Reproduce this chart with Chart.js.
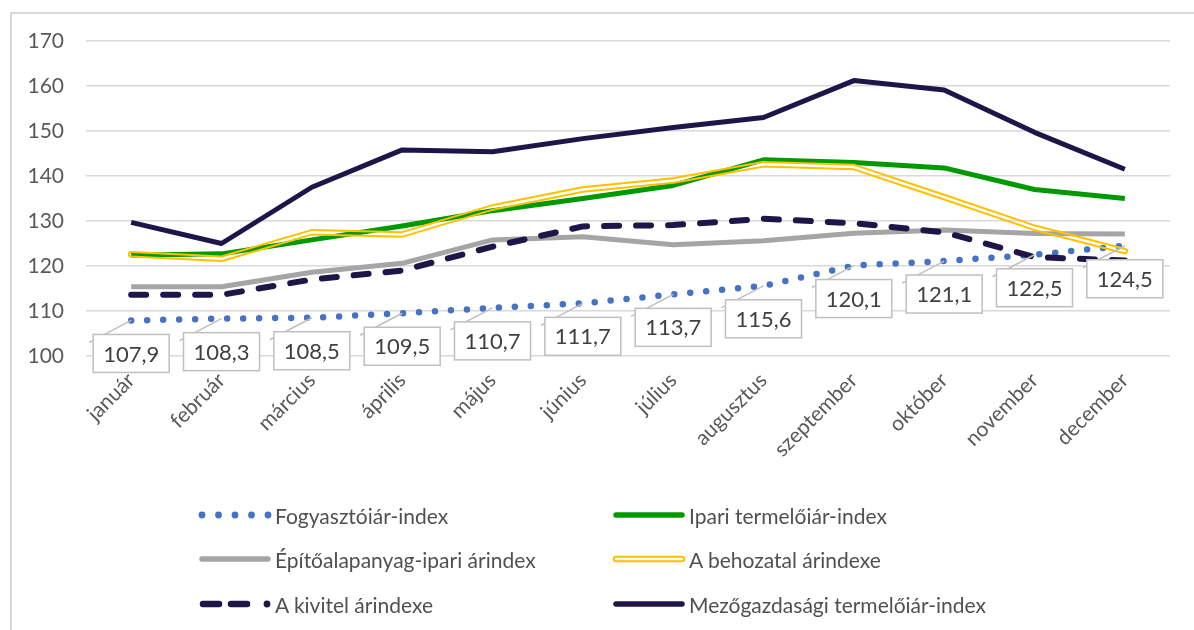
<!DOCTYPE html>
<html>
<head>
<meta charset="utf-8">
<script src="https://cdn.jsdelivr.net/npm/chart.js@4/dist/chart.umd.min.js"></script>
<style>
  html, body { margin: 0; padding: 0; background: #fff; }
  body { width: 1194px; height: 630px; position: relative; overflow: hidden; font-family: Lato, "Open Sans", sans-serif; }
  #frame { position: absolute; left: 10px; top: 12px; width: 1200px; height: 640px; border-left: 2px solid #d9d9d9; border-top: 2px solid #d9d9d9; }
  #wrap { position: absolute; left: 0; top: 0; width: 1194px; height: 630px; }
  .leg { position: absolute; display: flex; align-items: center; font-size: 21px; color: #505050; white-space: nowrap; }
  .leg svg { margin-right: 3px; }
</style>
</head>
<body>
<div id="frame"></div>
<div id="wrap"><canvas id="c"></canvas></div>
<div id="legend"></div>
<script>
const labels = ['január','február','március','április','május','június','július','augusztus','szeptember','október','november','december'];
const fogyasztoi = [107.9,108.3,108.5,109.5,110.7,111.7,113.7,115.6,120.1,121.1,122.5,124.5];
const ipari = [122.4,122.7,125.8,128.9,132.3,135.0,137.9,143.6,143.0,141.8,137.0,135.0];
const epitoanyag = [115.4,115.4,118.6,120.6,125.8,126.5,124.7,125.6,127.3,128.0,127.2,127.1];
const behozatal = [122.6,121.6,127.5,127.0,133.0,137.0,139.0,142.6,142.0,135.3,128.5,123.3];
const kivitel = [113.6,113.6,117.0,119.0,124.3,128.8,129.1,130.5,129.5,127.5,122.0,121.2];
const mezogazdasagi = [129.7,125.0,137.5,145.8,145.4,148.3,150.8,153.0,161.2,159.1,149.7,141.5];
const yTicks = [100,110,120,130,140,150,160,170];
const seriesNames = ['Fogyasztóiár-index','Ipari termelőiár-index','Építőalapanyag-ipari árindex','A behozatal árindexe','A kivitel árindexe','Mezőgazdasági termelőiár-index'];

const FONT = 'Lato, "Open Sans", sans-serif';
const TXT = '#595959';

function fmt(v){ return v.toFixed(1).replace('.', ','); }

// draws the double (outline) line of the import series with a transparent core
const doubleLinePlugin = {
  id: 'doubleLine',
  beforeDatasetDraw(chart, args) {
    if (args.index !== 3) return;
    const pts = args.meta.data;
    const off = document.createElement('canvas');
    off.width = chart.canvas.width; off.height = chart.canvas.height;
    const o = off.getContext('2d');
    const r = chart.currentDevicePixelRatio || 1;
    o.scale(r, r);
    o.beginPath();
    pts.forEach((p, i) => { if (i === 0) o.moveTo(p.x, p.y); else o.lineTo(p.x, p.y); });
    o.lineJoin = 'round'; o.lineCap = 'round';
    o.strokeStyle = '#ffc000'; o.lineWidth = 6.5; o.stroke();
    o.globalCompositeOperation = 'destination-out';
    o.lineWidth = 2.4; o.stroke();
    chart.ctx.save();
    chart.ctx.setTransform(1,0,0,1,0,0);
    chart.ctx.drawImage(off, 0, 0);
    chart.ctx.restore();
    return false;
  }
};

// Excel-like data labels for the first series
const labelPlugin = {
  id: 'boxLabels',
  afterDatasetsDraw(chart) {
    const meta = chart.getDatasetMeta(0);
    const ds = chart.data.datasets[0].data;
    const ctx = chart.ctx;
    ctx.save();
    meta.data.forEach((p, i) => {
      const cx = p.x, cy = p.y + 33;
      const w = 76, h = 38;
      ctx.strokeStyle = '#bfbfbf'; ctx.lineWidth = 1.5;
      ctx.beginPath(); ctx.moveTo(cx - 42, cy - 11); ctx.lineTo(p.x, p.y); ctx.stroke();
      ctx.fillStyle = '#fff';
      ctx.fillRect(cx - w/2, cy - h/2, w, h);
      ctx.strokeRect(cx - w/2, cy - h/2, w, h);
      ctx.fillStyle = '#404040';
      ctx.font = '22px ' + FONT;
      ctx.textAlign = 'center'; ctx.textBaseline = 'middle';
      ctx.fillText(fmt(ds[i]), cx, cy + 1);
    });
    ctx.restore();
  }
};

const colors = ['#4472c4','#009a00','#a5a5a5','#ffc000','#1f1548','#1f1548'];
const datasets = [
  { label: seriesNames[0], data: fogyasztoi, borderColor: colors[0], borderWidth: 6.5, borderDash: [0, 16], borderCapStyle: 'round', order: 5 },
  { label: seriesNames[1], data: ipari, borderColor: colors[1], borderWidth: 5, order: 4 },
  { label: seriesNames[2], data: epitoanyag, borderColor: colors[2], borderWidth: 5, order: 3 },
  { label: seriesNames[3], data: behozatal, borderColor: colors[3], borderWidth: 6.5, order: 2 },
  { label: seriesNames[4], data: kivitel, borderColor: colors[4], borderWidth: 6, borderDash: [15, 17], borderCapStyle: 'round', order: 1 },
  { label: seriesNames[5], data: mezogazdasagi, borderColor: colors[5], borderWidth: 5, order: 0 }
].map(d => Object.assign({ pointRadius: 0, pointHoverRadius: 0, tension: 0, fill: false, borderJoinStyle: 'round' }, d));

new Chart(document.getElementById('c'), {
  type: 'line',
  data: { labels, datasets },
  options: {
    responsive: true, maintainAspectRatio: false, animation: false,
    layout: { padding: { left: 0, right: 24, top: 41, bottom: 0 } },
    plugins: { legend: { display: false }, tooltip: { enabled: false } },
    scales: {
      x: {
        offset: true,
        grid: { display: false, drawTicks: false },
        border: { display: false },
        ticks: { autoSkip: false, minRotation: 45, maxRotation: 45, padding: 12, color: TXT, font: { family: FONT, size: 21 } },
        afterFit(s) { s.height = 630 - 356; }
      },
      y: {
        min: 100, max: 170,
        afterBuildTicks(s) { s.ticks = yTicks.map(v => ({ value: v })); },
        grid: { color: '#d9d9d9', lineWidth: 1.5, drawTicks: false },
        border: { display: false },
        ticks: { padding: 22, color: TXT, font: { family: FONT, size: 21 } },
        afterFit(s) { s.width = 86; }
      }
    }
  },
  plugins: [doubleLinePlugin, labelPlugin]
});

// HTML legend (2 columns x 3 rows)
function sample(i) {
  const c = colors[i];
  let inner = '';
  if (i === 0) {
    for (let k = 0; k < 5; k++) inner += `<circle cx="${4 + k*16.5}" cy="6" r="3.4" fill="${c}"/>`;
  } else if (i === 3) {
    inner = `<line x1="4" y1="6" x2="70" y2="6" stroke="${c}" stroke-width="6.5" stroke-linecap="round"/><line x1="4" y1="6" x2="70" y2="6" stroke="#fff" stroke-width="2.4" stroke-linecap="round"/>`;
  } else if (i === 4) {
    inner = `<line x1="5" y1="6" x2="21" y2="6" stroke="${c}" stroke-width="6.5" stroke-linecap="round"/><line x1="33" y1="6" x2="49" y2="6" stroke="${c}" stroke-width="6.5" stroke-linecap="round"/><circle cx="69" cy="6" r="3.4" fill="${c}"/>`;
  } else {
    inner = `<line x1="4" y1="6" x2="70" y2="6" stroke="${c}" stroke-width="5.5" stroke-linecap="round"/>`;
  }
  return `<svg width="74" height="12" viewBox="0 0 74 12">${inner}</svg>`;
}
const legPos = [[198,515],[612,515],[198,559],[612,559],[198,604],[612,604]];
const legEl = document.getElementById('legend');
seriesNames.forEach((n, i) => {
  const d = document.createElement('div');
  d.className = 'leg';
  d.style.left = legPos[i][0] + 'px';
  d.style.top = (legPos[i][1] - 14) + 'px';
  d.style.height = '28px';
  d.innerHTML = sample(i) + '<span>' + n + '</span>';
  legEl.appendChild(d);
});
</script>
</body>
</html>
